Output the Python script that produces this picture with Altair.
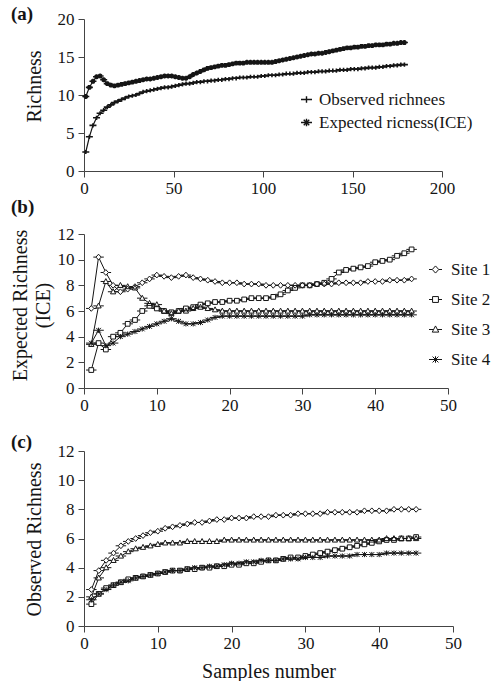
import altair as alt
import pandas as pd

# ---------------- data ----------------
# Panel (a): samples 1..179 (every second sample)
a_samples = list(range(1, 181, 2))
a_observed = [2.5, 4.5, 6.0, 7.0, 7.6, 8.0, 8.4, 8.7, 9.0, 9.2,
              9.4, 9.6, 9.8, 9.9, 10.0, 10.2, 10.4, 10.5, 10.6, 10.7,
              10.8, 10.9, 11.0, 11.0, 11.1, 11.2, 11.3, 11.4, 11.5, 11.5,
              11.6, 11.7, 11.7, 11.8, 11.8, 11.9, 11.9, 12.0, 12.0, 12.1,
              12.1, 12.2, 12.2, 12.3, 12.3, 12.3, 12.4, 12.4, 12.4, 12.5,
              12.5, 12.6, 12.6, 12.6, 12.7, 12.7, 12.8, 12.8, 12.8, 12.9,
              12.9, 12.9, 13.0, 13.0, 13.0, 13.1, 13.1, 13.1, 13.2, 13.2,
              13.2, 13.3, 13.3, 13.3, 13.4, 13.4, 13.4, 13.5, 13.5, 13.6,
              13.6, 13.6, 13.7, 13.7, 13.8, 13.8, 13.9, 13.9, 14.0, 14.0]
a_expected = [9.8, 11.0, 11.8, 12.4, 12.5, 12.0, 11.5, 11.3, 11.2, 11.3,
              11.4, 11.5, 11.6, 11.7, 11.8, 11.9, 12.0, 12.1, 12.1, 12.2,
              12.3, 12.4, 12.5, 12.5, 12.5, 12.4, 12.3, 12.2, 12.2, 12.4,
              12.7, 12.9, 13.1, 13.3, 13.5, 13.6, 13.7, 13.8, 13.9, 13.9,
              14.0, 14.1, 14.2, 14.2, 14.2, 14.3, 14.3, 14.3, 14.3, 14.3,
              14.3, 14.3, 14.3, 14.4, 14.5, 14.6, 14.7, 14.8, 14.9, 15.0,
              15.1, 15.2, 15.3, 15.4, 15.4, 15.5, 15.5, 15.6, 15.7, 15.8,
              15.9, 16.0, 16.1, 16.2, 16.2, 16.3, 16.3, 16.4, 16.4, 16.5,
              16.5, 16.6, 16.6, 16.6, 16.7, 16.7, 16.8, 16.8, 16.9, 16.9]
a_names = ["Observed richnees", "Expected ricness(ICE)"]

# Panels (b) and (c): samples 1..45
bc_samples = list(range(1, 46))
sites = ["Site 1", "Site 2", "Site 3", "Site 4"]

b_site1 = [6.2, 10.2, 9.0, 8.0, 7.5, 7.7, 7.9, 8.2, 8.5, 8.8,
           8.7, 8.6, 8.7, 8.8, 8.6, 8.5, 8.4, 8.3, 8.2, 8.2,
           8.2, 8.1, 8.1, 8.1, 8.0, 8.0, 8.0, 8.0, 8.0, 8.0,
           8.0, 8.1, 8.1, 8.1, 8.2, 8.2, 8.2, 8.2, 8.3, 8.3,
           8.3, 8.4, 8.4, 8.4, 8.5]
b_site2 = [1.4, 3.5, 3.0, 4.0, 4.3, 5.0, 5.3, 6.0, 6.4, 6.2,
           6.0, 5.9, 6.0, 6.2, 6.3, 6.5, 6.6, 6.7, 6.7, 6.8,
           6.8, 6.9, 7.0, 7.0, 7.0, 7.1, 7.3, 7.6, 7.8, 8.0,
           8.0, 8.1, 8.2, 8.5, 9.0, 9.2, 9.3, 9.4, 9.5, 9.8,
           9.9, 10.0, 10.3, 10.5, 10.8]
b_site3 = [3.4, 6.4, 8.3, 7.5, 8.0, 7.9, 7.8, 7.0, 6.6, 6.5,
           6.0, 5.8, 6.0, 6.0, 6.2, 6.3, 6.2, 6.1, 6.0, 6.0,
           6.0, 6.0, 6.0, 6.0, 6.0, 6.0, 6.0, 6.0, 6.0, 6.0,
           6.0, 6.0, 6.0, 6.0, 6.0, 6.0, 6.0, 6.0, 6.0, 6.0,
           6.0, 6.0, 6.0, 6.0, 6.0]
b_site4 = [3.5, 4.5, 3.3, 3.5, 4.0, 4.2, 4.4, 4.6, 4.8, 5.0,
           5.2, 5.4, 5.2, 5.0, 5.0, 5.1, 5.3, 5.5, 5.6, 5.6,
           5.6, 5.6, 5.6, 5.6, 5.6, 5.6, 5.6, 5.6, 5.6, 5.6,
           5.7, 5.7, 5.7, 5.7, 5.7, 5.7, 5.7, 5.7, 5.7, 5.7,
           5.7, 5.7, 5.7, 5.7, 5.7]

c_site1 = [2.5, 3.8, 4.5, 5.0, 5.5, 5.8, 6.0, 6.2, 6.4, 6.5,
           6.7, 6.8, 6.9, 7.0, 7.1, 7.1, 7.2, 7.3, 7.3, 7.4,
           7.4, 7.4, 7.5, 7.5, 7.5, 7.6, 7.6, 7.6, 7.7, 7.7,
           7.7, 7.7, 7.8, 7.8, 7.8, 7.8, 7.8, 7.9, 7.9, 7.9,
           7.9, 8.0, 8.0, 8.0, 8.0]
c_site2 = [1.5, 2.2, 2.6, 2.8, 3.0, 3.2, 3.3, 3.4, 3.5, 3.6,
           3.7, 3.8, 3.8, 3.9, 3.9, 4.0, 4.0, 4.1, 4.1, 4.2,
           4.2, 4.3, 4.3, 4.4, 4.5, 4.5, 4.6, 4.7, 4.7, 4.8,
           4.9, 5.0, 5.1, 5.2, 5.3, 5.4, 5.5, 5.6, 5.7, 5.8,
           5.9, 5.9, 6.0, 6.0, 6.1]
c_site3 = [2.0, 3.3, 4.0, 4.5, 4.8, 5.1, 5.3, 5.4, 5.5, 5.6,
           5.7, 5.7, 5.7, 5.8, 5.8, 5.8, 5.8, 5.8, 5.9, 5.9,
           5.9, 5.9, 5.9, 5.9, 5.9, 5.9, 5.9, 5.9, 5.9, 5.9,
           5.9, 5.9, 5.9, 5.9, 5.9, 5.9, 5.9, 5.9, 5.9, 5.9,
           6.0, 6.0, 6.0, 6.0, 6.0]
c_site4 = [1.8, 2.2, 2.5, 2.8, 3.0, 3.1, 3.3, 3.4, 3.5, 3.6,
           3.7, 3.8, 3.8, 3.9, 4.0, 4.0, 4.1, 4.1, 4.2, 4.3,
           4.3, 4.4, 4.4, 4.5, 4.5, 4.5, 4.6, 4.6, 4.6, 4.7,
           4.7, 4.7, 4.8, 4.8, 4.8, 4.8, 4.9, 4.9, 4.9, 4.9,
           5.0, 5.0, 5.0, 5.0, 5.0]

# ---------------- tables ----------------
def long_table(xs, series, names):
    rows = []
    for name, vals in zip(names, series):
        for x, v in zip(xs, vals):
            rows.append({"x": x, "y": v, "s": name})
    return pd.DataFrame(rows)

df_a = long_table(a_samples, [a_observed, a_expected], a_names)
df_b = long_table(bc_samples, [b_site1, b_site2, b_site3, b_site4], sites)
df_c = long_table(bc_samples, [c_site1, c_site2, c_site3, c_site4], sites)

# ---------------- style ----------------
FONT = "Liberation Serif"
INK = "#151515"
AXIS_C = "#444444"

# marker paths: short horizontal line segment + marker
P_PLUS = "M-1,0H1M0,-0.6V0.6"
P_STAR = "M-1,0H1M0,-0.7V0.7M-0.5,-0.5L0.5,0.5M-0.5,0.5L0.5,-0.5"
P_DIAM = "M-1,0H-0.5M0.5,0H1M-0.5,0L0,-0.55L0.5,0L0,0.55Z"
P_SQR = "M-1,0H-0.45M0.45,0H1M-0.45,-0.45H0.45V0.45H-0.45Z"
P_TRI = "M-1,0H-0.35M0.35,0H1M0,-0.55L0.5,0.4H-0.5Z"
P_AST = "M-1,0H1M-0.45,-0.45L0.45,0.45M-0.45,0.45L0.45,-0.45M0,-0.5V0.5"
# plain filled backgrounds for hollow markers
F_DIAM = "M-0.5,0L0,-0.55L0.5,0L0,0.55Z"
F_SQR = "M-0.45,-0.45H0.45V0.45H-0.45Z"
F_TRI = "M0,-0.55L0.5,0.4H-0.5Z"
F_AST = "M0,0"


def axis_x(values, title=None, **kw):
    args = dict(values=values, grid=False, tickSize=6, labelPadding=3,
                labelFont=FONT, labelFontSize=17, labelColor=INK,
                domainColor=AXIS_C, tickColor=AXIS_C, labelFlush=False)
    if title is None:
        args["title"] = None
    else:
        args["title"] = title
    args.update(kw)
    return alt.Axis(**args)


def axis_y(values, title, tx, ty, **kw):
    args = dict(values=values, grid=False, tickSize=6, labelPadding=4,
                labelFont=FONT, labelFontSize=17, labelColor=INK,
                domainColor=AXIS_C, tickColor=AXIS_C, title=title,
                titleFont=FONT, titleFontSize=20, titleFontWeight="normal",
                titleColor=INK, titleX=tx, titleY=ty, titleBaseline="middle",
                titleAngle=270, titleAlign="center", labelFlush=False)
    args.update(kw)
    return alt.Axis(**args)


def panel_label(text, dy):
    return alt.Chart(pd.DataFrame({"lab": [text]})).mark_text(
        font=FONT, fontSize=19, fontWeight="bold", align="left",
        baseline="middle", color=INK
    ).encode(x=alt.value(-73), y=alt.value(dy), text="lab:N")


# ---------------- panel (a) ----------------
xa = alt.X("x:Q", scale=alt.Scale(domain=[0, 200], nice=False),
           axis=axis_x([0, 50, 100, 150, 200]))
ya = alt.Y("y:Q", scale=alt.Scale(domain=[0, 20], nice=False),
           axis=axis_y([0, 5, 10, 15, 20], "Richness", -50, 67))

base_a = alt.Chart(df_a)
line_a = base_a.mark_line(color=INK, strokeWidth=1.2).encode(
    x=xa, y=ya, detail="s:N")
pts_a = base_a.mark_point(filled=False, stroke=INK, strokeWidth=1.6,
                          opacity=1, size=49).encode(
    x=xa, y=ya,
    shape=alt.Shape("s:N", scale=alt.Scale(domain=a_names, range=[P_PLUS, P_STAR]),
                    legend=alt.Legend(title=None, orient="none", legendX=214,
                                      legendY=72, labelFont=FONT,
                                      labelFontSize=17, labelColor=INK,
                                      symbolSize=121, symbolStrokeWidth=1.4,
                                      symbolStrokeColor=INK,
                                      symbolFillColor="transparent",
                                      labelOffset=4, rowPadding=5,
                                      padding=0)))
panel_a = alt.layer(line_a, pts_a, panel_label("(a)", -5)).properties(
    width=358, height=152)

# ---------------- panels (b) & (c) ----------------
site_shapes = [P_DIAM, P_SQR, P_TRI, P_AST]
site_fills = [F_DIAM, F_SQR, F_TRI, F_AST]


def site_panel(df, ytitle, tx, ty, legend, xtitle=None):
    xs = alt.X("x:Q", scale=alt.Scale(domain=[0, 50], nice=False),
               axis=axis_x([0, 10, 20, 30, 40, 50], xtitle,
                           **({} if xtitle is None else dict(
                               titleFont=FONT, titleFontSize=20,
                               titleFontWeight="normal", titleColor=INK,
                               titleBaseline="middle", titleY=45))))
    ys = alt.Y("y:Q", scale=alt.Scale(domain=[0, 12], nice=False),
               axis=axis_y([0, 2, 4, 6, 8, 10, 12], ytitle, tx, ty,
                           titleLineHeight=23))
    base = alt.Chart(df)
    line = base.mark_line(color=INK, strokeWidth=1).encode(
        x=xs, y=ys, detail="s:N")
    bg = base.mark_point(filled=True, color="white", opacity=1, size=110).encode(
        x=xs, y=ys,
        shape=alt.Shape("s:N", legend=None,
                        scale=alt.Scale(domain=sites, range=site_fills)))
    shape_kw = dict(scale=alt.Scale(domain=sites, range=site_shapes))
    if legend:
        lg = alt.Legend(title=None, orient="none", legendX=343, legendY=27,
                        labelFont=FONT, labelFontSize=17, labelColor=INK,
                        symbolSize=169, symbolStrokeWidth=1,
                        symbolStrokeColor=INK, symbolFillColor="white",
                        labelOffset=7, rowPadding=12, padding=0)
        shape = alt.Shape("s:N", legend=lg, **shape_kw)
    else:
        shape = alt.Shape("s:N", legend=None, **shape_kw)
    pts = base.mark_point(filled=False, stroke=INK,
                          strokeWidth=1, opacity=1, size=110).encode(
        x=xs, y=ys, shape=shape)
    return line, bg, pts


lb, bb, pb = site_panel(df_b, ["Expected Richness", "(ICE)"], -64, 71, True)
panel_b = alt.layer(lb, bb, pb, panel_label("(b)", -27)).resolve_scale(
    shape="independent").properties(width=364, height=154)

lc, bc, pc = site_panel(df_c, "Observed Richness", -50, 88, False,
                        xtitle="Samples number")
panel_c = alt.layer(lc, bc, pc, panel_label("(c)", -9)).resolve_scale(
    shape="independent").properties(width=369, height=175)

chart = alt.vconcat(panel_a, panel_b, panel_c, spacing=63, bounds="flush").resolve_scale(
    shape="independent", x="independent", y="independent"
).properties(
    padding={"left": 10, "top": 5, "right": 0, "bottom": 0},
    background="white"
).configure_view(stroke=None)

chart.save("out.html", embed_options={"renderer": "svg", "actions": False})
